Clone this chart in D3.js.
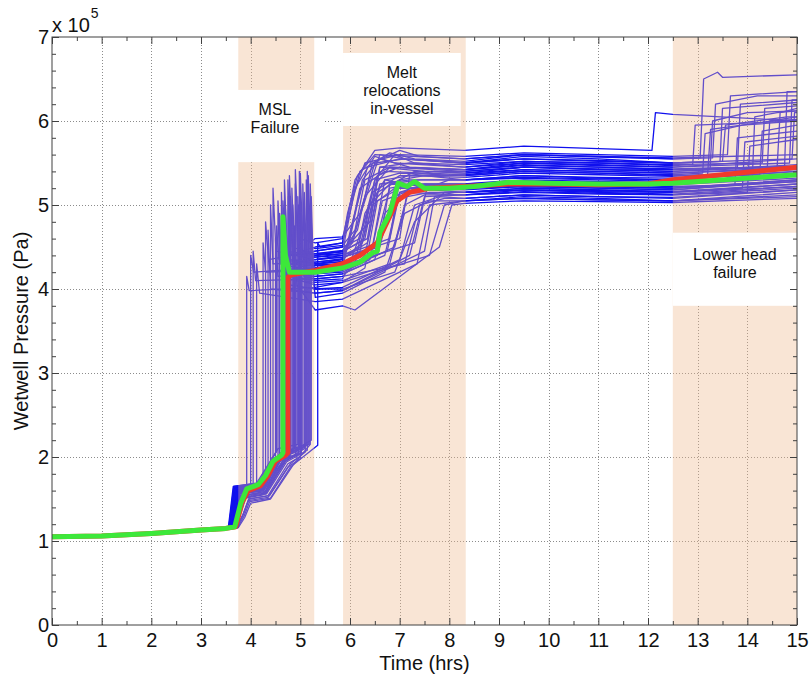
<!DOCTYPE html>
<html>
<head>
<meta charset="utf-8">
<script src="https://cdn.jsdelivr.net/npm/d3@7"></script>
<style>
  body { margin: 0; background: #fff; }
  svg { display: block; font-family: Arial, "Liberation Sans", sans-serif; }
</style>
</head>
<body>
<svg id="chart" width="809" height="677"></svg>
<script>
// Graduations des axes
const xTicks = [0, 1, 2, 3, 4, 5, 6, 7, 8, 9, 10, 11, 12, 13, 14, 15];
const yTicks = [0, 1, 2, 3, 4, 5, 6, 7];

// Phases de l'accident (bandes colorées) et leurs libellés
const phaseStart = [3.75, 5.86, 12.5];
const phaseEnd = [5.28, 8.33, 15];
const phaseLabels = [["MSL", "Failure"], ["Melt", "relocations", "in-vessel"], ["Lower head", "failure"]];

// Début commun à toutes les simulations (heures, pression en 1e5 Pa)
const basePath = [[0, 1.05], [1, 1.06], [2, 1.09], [3, 1.13], [3.5, 1.15]];

// Simulations individuelles
const blueRuns = [
  [[3.56,1.16],[3.66,1.6],[3.92,1.66],[3.92,4.15],[3.97,3.98],[5.3,4.02],[5.85,4.08],[6.3,4.25],[6.55,5.05],[7.0,5.2],[8.3,5.22],[9.5,5.28],[11,5.26],[12.5,5.24],[15,5.32]],
  [[3.58,1.16],[3.68,1.62],[4.0,1.66],[4.0,4.4],[4.06,4.2],[5.3,4.25],[5.85,4.3],[6.05,4.8],[6.35,5.45],[7.0,5.55],[8.3,5.5],[9.5,5.58],[11,5.55],[12.5,5.5],[13.45,5.52],[13.5,6.15],[15,6.22]],
  [[3.6,1.16],[3.72,1.42],[3.85,1.58],[4.12,1.62],[4.12,4.3],[4.18,3.95],[5.3,3.85],[5.85,3.88],[7.35,4.3],[7.6,5.0],[8.3,5.05],[9.5,5.1],[11,5.08],[12.5,5.05],[15,5.15]],
  [[3.62,1.16],[3.72,1.55],[4.2,1.6],[4.3,1.75],[4.3,4.8],[4.36,4.35],[5.3,4.45],[5.85,4.5],[6.2,4.6],[6.5,5.3],[6.9,5.6],[7.3,5.5],[8.3,5.45],[9.5,5.5],[11,5.48],[12.5,5.45],[15,5.55]],
  [[3.65,1.16],[3.75,1.6],[4.2,1.65],[4.45,1.98],[4.45,5.2],[4.51,4.45],[5.3,4.35],[5.85,4.4],[6.8,4.6],[7.0,5.3],[7.5,5.35],[8.3,5.3],[9.5,5.35],[11,5.33],[12.5,5.32],[14.25,5.36],[14.3,5.88],[15,5.95]],
  [[3.57,1.16],[3.67,1.63],[4.15,1.67],[4.5,1.95],[4.55,1.98],[4.55,5.05],[4.6,4.3],[5.3,4.2],[5.85,4.22],[6.1,4.3],[6.3,4.9],[6.7,5.3],[7.1,5.25],[8.3,5.2],[9.5,5.22],[11,5.2],[12.5,5.18],[15,5.28]],
  [[3.64,1.16],[3.74,1.58],[4.2,1.62],[4.55,2.0],[4.62,2.02],[4.62,4.9],[4.67,4.2],[5.3,4.15],[5.85,4.18],[6.5,4.35],[6.7,4.9],[7.2,5.2],[8.3,5.15],[9.5,5.2],[11,5.18],[12.5,5.16],[13.9,5.2],[13.95,5.75],[15,5.82]],
  [[3.7,1.16],[3.8,1.5],[4.25,1.55],[4.6,1.9],[4.68,1.93],[4.68,5.3],[4.74,4.4],[5.3,4.5],[5.85,4.55],[5.95,4.8],[6.2,5.4],[6.8,5.62],[7.3,5.55],[8.3,5.52],[9.5,5.6],[11,5.58],[12.5,5.55],[13.05,5.56],[13.12,6.5],[13.4,6.58],[13.5,6.52],[15,6.55]],
  [[3.66,1.16],[3.76,1.56],[4.3,1.6],[4.65,2.02],[4.72,2.04],[4.72,4.65],[4.78,4.05],[5.3,4.0],[5.85,4.02],[7.0,4.35],[7.3,5.0],[7.8,5.1],[8.3,5.08],[9.5,5.12],[11,5.1],[12.5,5.08],[15,5.18]],
  [[3.6,1.16],[3.7,1.64],[4.1,1.68],[4.5,1.92],[4.78,2.0],[4.78,5.35],[4.84,4.5],[5.3,4.4],[5.85,4.45],[6.4,4.8],[6.6,5.45],[7.5,5.4],[8.3,5.38],[9.5,5.45],[11,5.42],[12.5,5.4],[14.6,5.45],[14.66,6.1],[15,6.15]],
  [[3.63,1.16],[3.73,1.61],[4.2,1.65],[4.6,2.05],[4.85,2.08],[4.85,5.0],[4.9,4.25],[5.3,4.3],[5.85,4.32],[6.6,4.55],[6.9,5.2],[7.4,5.25],[8.3,5.25],[9.5,5.3],[11,5.28],[12.5,5.26],[15,5.38]],
  [[3.68,1.16],[3.8,1.35],[3.9,1.52],[4.3,1.56],[4.7,1.95],[4.9,2.02],[4.9,5.42],[4.96,4.6],[5.3,4.55],[5.85,4.6],[6.0,5.0],[6.3,5.5],[7.0,5.6],[8.3,5.58],[9.5,5.62],[11,5.6],[12.5,5.58],[13.6,5.6],[13.66,6.3],[15,6.35]],
  [[3.55,1.16],[3.65,1.65],[4.15,1.69],[4.55,2.1],[4.95,2.15],[4.95,5.1],[5.0,4.1],[5.3,4.05],[5.85,4.08],[7.6,4.4],[7.9,5.0],[8.3,5.05],[9.5,5.08],[11,5.06],[12.5,5.05],[15,5.12]],
  [[3.72,1.16],[3.84,1.3],[3.95,1.48],[4.35,1.52],[4.75,1.88],[5.0,1.98],[5.0,5.38],[5.06,4.35],[5.3,4.38],[5.85,4.4],[6.2,4.5],[6.45,5.15],[7.0,5.35],[8.3,5.35],[9.5,5.4],[11,5.38],[12.5,5.35],[13.2,5.36],[13.26,5.9],[14.5,6.0],[15,6.02]],
  [[3.67,1.16],[3.77,1.57],[4.25,1.61],[4.65,2.0],[5.05,2.1],[5.05,5.25],[5.1,4.2],[5.3,4.2],[5.85,4.22],[6.9,4.5],[7.15,5.1],[7.6,5.15],[8.3,5.15],[9.5,5.18],[11,5.17],[12.5,5.15],[15,5.25]],
  [[3.61,1.16],[3.71,1.62],[4.2,1.66],[4.6,2.05],[5.12,2.15],[5.12,5.3],[5.17,4.4],[5.3,4.3],[5.85,4.35],[6.0,4.6],[6.25,5.3],[6.6,5.55],[7.2,5.45],[8.3,5.42],[9.5,5.5],[11,5.47],[12.5,5.45],[14.85,5.5],[14.9,6.25],[15,6.25]],
  [[3.75,1.16],[3.88,1.28],[4.0,1.45],[4.4,1.5],[4.85,1.9],[5.2,2.15],[5.2,5.25],[5.25,4.2],[5.3,3.9],[5.85,3.95],[6.7,4.2],[7.1,4.9],[7.6,5.05],[8.3,5.05],[9.5,5.08],[11,5.06],[12.5,5.05],[15,5.1]],
  [[3.59,1.16],[3.69,1.6],[4.18,1.64],[4.35,1.85],[4.35,4.7],[4.4,4.0],[5.3,3.95],[5.85,3.98],[7.2,4.4],[7.5,5.1],[8.3,5.12],[9.5,5.15],[11,5.13],[12.5,5.12],[14.0,5.15],[14.05,5.7],[15,5.78]],
  [[3.63,1.16],[3.73,1.59],[4.05,1.63],[4.05,4.45],[4.1,4.1],[5.3,4.12],[5.85,4.15],[6.3,4.4],[6.6,5.25],[7.2,5.3],[8.3,5.3],[9.5,5.35],[11,5.32],[12.5,5.3],[15,5.4]],
  [[3.65,1.16],[3.75,1.57],[4.22,1.61],[4.58,2.0],[4.62,2.01],[4.62,5.15],[4.67,4.3],[5.3,4.28],[5.85,4.3],[6.5,4.5],[6.8,5.2],[7.3,5.25],[8.3,5.22],[9.5,5.26],[11,5.24],[12.5,5.22],[13.75,5.24],[13.8,5.8],[15,5.88]],
  [[3.58,1.16],[3.68,1.63],[4.18,1.67],[4.52,1.96],[4.7,2.0],[4.7,4.95],[4.75,4.15],[5.3,4.1],[5.85,4.12],[6.0,4.3],[6.4,5.0],[6.8,5.25],[8.3,5.2],[9.5,5.25],[11,5.22],[12.5,5.2],[15,5.3]],
  [[3.7,1.16],[3.8,1.53],[4.3,1.57],[4.7,1.98],[4.8,2.02],[4.8,5.1],[4.85,4.3],[5.3,4.35],[5.85,4.38],[7.0,4.6],[7.2,5.35],[7.7,5.4],[8.3,5.38],[9.5,5.42],[11,5.4],[12.5,5.38],[14.4,5.42],[14.45,6.0],[15,6.05]],
  [[3.64,1.16],[3.74,1.6],[4.25,1.64],[4.65,2.06],[4.88,2.1],[4.88,4.75],[4.93,4.05],[5.3,3.75],[5.85,3.8],[6.1,3.75],[7.8,4.5],[8.05,5.0],[8.3,5.02],[9.5,5.05],[11,5.04],[12.5,5.03],[15,5.08]],
  [[3.62,1.16],[3.72,1.61],[4.2,1.65],[4.6,2.03],[4.98,2.1],[4.98,5.4],[5.03,4.45],[5.3,4.42],[5.85,4.46],[6.15,4.7],[6.45,5.5],[7.0,5.65],[7.4,5.58],[8.3,5.55],[9.5,5.6],[11,5.57],[12.5,5.55],[13.3,5.56],[13.36,6.2],[14.2,6.3],[15,6.3]],
  [[3.69,1.16],[3.82,1.36],[3.92,1.55],[4.3,1.59],[4.7,1.95],[5.08,2.1],[5.08,5.15],[5.13,4.25],[5.3,4.22],[5.85,4.25],[6.75,4.45],[7.0,5.15],[7.5,5.25],[8.3,5.25],[9.5,5.28],[11,5.27],[12.5,5.25],[15,5.35]],
  [[3.66,1.16],[3.76,1.58],[4.28,1.62],[4.7,2.0],[5.16,2.15],[5.16,5.35],[5.21,4.5],[5.3,4.48],[5.85,4.52],[6.1,4.7],[6.3,5.3],[6.8,5.45],[8.3,5.42],[9.5,5.48],[11,5.45],[12.5,5.42],[14.75,5.46],[14.8,6.35],[15,6.35]],
  [[3.57,1.16],[3.67,1.64],[4.15,1.68],[4.5,2.0],[4.5,4.6],[4.55,4.15],[5.3,4.18],[5.85,4.2],[6.4,4.35],[6.65,5.05],[7.1,5.15],[8.3,5.12],[9.5,5.18],[11,5.15],[12.5,5.13],[15,5.22]],
  [[3.71,1.16],[3.85,1.32],[3.96,1.5],[4.35,1.54],[4.75,1.92],[4.93,1.98],[4.93,4.85],[4.98,4.2],[5.3,4.25],[5.85,4.28],[7.3,4.55],[7.55,5.2],[8.0,5.3],[8.3,5.3],[9.5,5.32],[11,5.3],[12.5,5.28],[14.1,5.32],[14.15,6.05],[14.6,6.1],[15,6.12]],
  [[3.6,1.16],[3.7,1.6],[4.2,1.64],[4.6,2.02],[4.75,2.05],[4.75,5.3],[4.8,4.35],[5.3,4.3],[5.85,4.33],[5.9,4.6],[6.1,5.2],[6.5,5.58],[6.9,5.5],[8.3,5.45],[9.5,5.52],[11,5.5],[12.5,5.47],[12.9,5.48],[12.95,5.95],[15,6.0]],
  [[3.63,1.16],[3.73,1.58],[4.24,1.62],[4.62,1.99],[5.22,2.2],[5.22,5.1],[5.27,4.05],[5.3,4.0],[5.85,4.0],[6.9,4.2],[7.3,4.8],[7.9,5.15],[8.3,5.15],[9.5,5.2],[11,5.18],[12.5,5.16],[15,5.25]],
  [[3.74,1.16],[3.87,1.3],[3.98,1.47],[4.4,1.51],[4.8,1.88],[5.35,2.14],[5.35,4.55],[5.4,4.5],[5.85,4.55],[5.95,4.9],[6.15,5.35],[6.5,5.6],[8.3,5.55],[9.5,5.6],[11,5.58],[12.5,5.56],[15,5.6]],
  [[3.65,1.16],[3.75,1.6],[4.2,1.64],[4.55,2.0],[4.58,2.01],[4.58,4.9],[4.63,4.25],[5.3,4.2],[5.85,4.24],[6.55,4.4],[6.85,5.05],[7.3,5.2],[8.3,5.2],[9.5,5.23],[11,5.22],[12.5,5.2],[15,5.28]],
  [[3.62,1.16],[3.72,1.63],[4.2,1.67],[4.6,2.04],[4.83,2.06],[4.83,5.2],[4.88,4.4],[5.3,4.42],[5.85,4.44],[6.3,4.6],[6.55,5.35],[7.0,5.45],[8.3,5.42],[9.5,5.47],[11,5.45],[12.5,5.43],[13.8,5.45],[13.86,6.2],[15,6.25]],
  [[3.68,1.16],[3.78,1.54],[4.3,1.58],[4.7,1.96],[5.02,2.05],[5.02,4.9],[5.07,4.15],[5.3,4.12],[5.85,4.15],[7.1,4.3],[7.4,5.0],[7.9,5.08],[8.3,5.08],[9.5,5.12],[11,5.1],[12.5,5.09],[15,5.18]],
  [[3.59,1.16],[3.69,1.62],[4.16,1.66],[4.4,1.9],[4.4,5.0],[4.45,4.3],[5.3,4.32],[5.85,4.35],[6.25,4.55],[6.5,5.3],[7.0,5.38],[8.3,5.35],[9.5,5.4],[11,5.38],[12.5,5.36],[13.1,5.38],[13.15,5.85],[13.9,5.95],[15,6.0]],
  [[3.73,1.16],[3.86,1.33],[3.97,1.5],[4.38,1.54],[4.8,1.92],[5.1,2.06],[5.1,4.7],[5.15,4.35],[5.3,4.35],[5.85,4.38],[6.6,4.5],[6.8,5.25],[7.4,5.3],[8.3,5.3],[9.5,5.33],[11,5.31],[12.5,5.3],[15,5.4]],
  [[3.64,1.16],[3.74,1.59],[4.22,1.63],[4.62,2.02],[4.65,2.03],[4.65,5.05],[4.7,4.45],[5.3,4.4],[5.85,4.42],[6.05,4.55],[6.3,5.1],[6.8,5.45],[8.3,5.4],[9.5,5.45],[11,5.42],[12.5,5.4],[15,5.48]],
  [[3.61,1.16],[3.71,1.61],[4.2,1.65],[4.6,2.0],[4.73,2.02],[4.73,4.55],[4.78,4.0],[5.3,3.95],[5.85,3.98],[7.5,4.45],[7.7,5.1],[8.1,5.15],[8.3,5.15],[9.5,5.18],[11,5.16],[12.5,5.15],[15,5.22]],
  [[3.67,1.16],[3.77,1.56],[4.26,1.6],[4.66,1.97],[4.96,2.03],[4.96,5.0],[5.01,4.3],[5.3,4.4],[5.85,4.45],[6.35,4.6],[6.6,5.45],[7.2,5.5],[8.3,5.48],[9.5,5.52],[11,5.5],[12.5,5.48],[14.3,5.5],[14.35,6.15],[15,6.18]],
  [[3.56,1.16],[3.66,1.65],[4.12,1.69],[4.5,2.05],[4.52,2.06],[4.52,4.75],[4.57,4.35],[5.3,4.3],[5.85,4.28],[6.2,4.45],[6.45,5.0],[6.9,5.2],[8.3,5.18],[9.5,5.22],[11,5.2],[12.5,5.18],[15,5.3]],
  [[3.7,1.16],[3.8,1.52],[4.32,1.56],[4.72,1.94],[5.14,2.08],[5.14,5.4],[5.19,4.55],[5.3,4.6],[5.85,4.62],[6.2,4.9],[6.5,5.5],[7.1,5.55],[8.3,5.5],[9.5,5.55],[11,5.53],[12.5,5.5],[13.5,5.52],[13.56,5.95],[14.8,6.05],[15,6.05]],
  [[3.62,1.16],[3.72,1.6],[4.2,1.64],[4.6,2.0],[4.86,2.05],[4.86,4.65],[4.91,4.1],[5.3,4.08],[5.85,4.1],[6.8,4.3],[7.1,5.0],[7.5,5.12],[8.3,5.12],[9.5,5.16],[11,5.14],[12.5,5.12],[15,5.2]],
  [[3.65,1.16],[3.75,1.58],[4.25,1.62],[4.65,2.02],[5.18,2.15],[5.18,4.95],[5.23,4.25],[5.3,4.28],[5.85,4.3],[6.45,4.5],[6.7,5.3],[7.2,5.35],[8.3,5.33],[9.5,5.38],[11,5.36],[12.5,5.34],[15,5.42]],
  [[3.58,1.16],[3.68,1.62],[4.18,1.66],[4.25,1.72],[4.25,4.55],[4.3,4.2],[5.3,4.22],[5.85,4.26],[5.95,4.5],[6.2,5.2],[6.7,5.4],[8.3,5.36],[9.5,5.42],[11,5.4],[12.5,5.38],[15,5.45]],
  [[3.6,1.16],[3.7,1.6],[4.2,1.64],[4.6,2.0],[4.76,2.04],[4.76,5.1],[4.81,4.4],[5.3,4.45],[5.85,4.5],[5.9,4.7],[6.1,5.3],[6.5,5.65],[7.0,5.68],[8.3,5.65],[9.5,5.7],[11,5.67],[12.08,5.65],[12.15,6.1],[12.5,6.08],[15,6.0]],
  [[3.67,1.16],[3.77,1.57],[4.27,1.61],[4.68,1.98],[4.9,2.03],[4.9,5.25],[4.95,4.4],[5.3,4.38],[5.85,4.42],[6.05,4.6],[6.3,5.05],[6.6,5.6],[7.1,5.55],[8.3,5.5],[9.5,5.55],[11,5.52],[12.5,5.5],[14.9,5.55],[14.95,6.1],[15,6.1]],
  [[3.63,1.16],[3.73,1.6],[4.22,1.64],[4.62,2.01],[4.66,2.02],[4.66,4.35],[4.71,4.1],[5.3,4.15],[5.85,4.18],[6.7,4.4],[7.0,5.15],[7.6,5.2],[8.3,5.2],[9.5,5.24],[11,5.22],[12.5,5.2],[15,5.3]],
  [[3.6,1.16],[3.7,1.62],[4.18,1.66],[4.56,1.98],[4.8,2.03],[4.8,5.0],[4.85,4.35],[5.3,4.32],[5.85,4.36],[6.35,4.55],[6.55,5.15],[7.3,5.4],[8.3,5.4],[9.5,5.45],[11,5.43],[12.5,5.42],[13.25,5.43],[13.3,6.0],[14.0,6.1],[15,6.12]]
];

// Courbe médiane (rouge), après le début commun
const medianRun = [[3.7,1.17],[3.82,1.45],[3.95,1.6],[4.2,1.66],[4.35,1.78],[4.5,1.95],[4.7,2.02],[4.75,2.05],[4.75,4.14],[4.82,4.17],[5.3,4.22],[5.85,4.3],[6.2,4.4],[6.55,4.55],[6.75,4.8],[6.95,5.05],[7.2,5.15],[7.6,5.2],[8.3,5.22],[9.2,5.25],[10,5.25],[11,5.24],[12,5.25],[12.5,5.3],[15,5.45]];

// Simulation de référence (verte), après le début commun
const refRun = [[3.68,1.17],[3.8,1.45],[3.92,1.62],[4.15,1.67],[4.3,1.78],[4.45,1.95],[4.62,2.02],[4.65,2.05],[4.65,4.86],[4.7,4.4],[4.78,4.2],[5.3,4.2],[5.85,4.25],[6.2,4.32],[6.45,4.43],[6.55,4.45],[6.6,4.67],[6.8,4.9],[6.97,5.26],[7.15,5.22],[7.3,5.28],[7.5,5.2],[8.0,5.2],[8.5,5.22],[9.2,5.27],[10,5.26],[11,5.25],[12,5.25],[12.5,5.26],[15,5.36]];

const svg = d3.select("#chart");
const margin = { top: 37, right: 12, bottom: 52, left: 52 };
const W = +svg.attr("width");
const H = +svg.attr("height");

const x = d3.scaleLinear().domain([0, 15]).range([margin.left, W - margin.right]);
const y = d3.scaleLinear().domain([0, 7]).range([H - margin.bottom, margin.top]);

const line = d3.line().x(d => x(d[0])).y(d => y(d[1]));

svg.append("defs").append("clipPath").attr("id", "clip")
  .append("rect")
  .attr("x", x(0)).attr("y", y(7))
  .attr("width", x(15) - x(0)).attr("height", y(0) - y(7));

// Grille pointillée
const grid = svg.append("g").attr("stroke", "#8c8c8c").attr("stroke-dasharray", "1,2");
grid.selectAll(".gx").data(xTicks.slice(1, -1)).join("line")
  .attr("x1", d => Math.round(x(d)) + 0.5).attr("x2", d => Math.round(x(d)) + 0.5)
  .attr("y1", y(0)).attr("y2", y(7));
grid.selectAll(".gy").data(yTicks.slice(1, -1)).join("line")
  .attr("y1", d => Math.round(y(d)) + 0.5).attr("y2", d => Math.round(y(d)) + 0.5)
  .attr("x1", x(0)).attr("x2", x(15));

// Faisceau des simulations
const plot = svg.append("g").attr("clip-path", "url(#clip)");
plot.append("g")
  .selectAll("path")
  .data(blueRuns)
  .join("path")
  .attr("fill", "none")
  .attr("stroke", "#1010ee")
  .attr("stroke-width", 1.3)
  .attr("stroke-linejoin", "round")
  .attr("d", d => line(basePath.concat(d)));

// Bandes des phases, semi-transparentes au-dessus du faisceau
plot.append("g")
  .selectAll("rect")
  .data(phaseStart)
  .join("rect")
  .attr("x", d => x(d))
  .attr("width", (d, i) => x(phaseEnd[i]) - x(d))
  .attr("y", y(7))
  .attr("height", y(0) - y(7))
  .attr("fill", "rgb(240,184,140)")
  .attr("fill-opacity", 0.37);

// Cartouches blancs des libellés (coordonnées en données)
const boxes = [
  { t0: 3.52, t1: 5.46, p0: 6.37, p1: 5.51 },
  { t0: 5.86, t1: 8.23, p0: 6.81, p1: 5.94 },
  { t0: 12.5, t1: 15, p0: 4.67, p1: 3.8 }
];
boxes.forEach((b, i) => {
  svg.append("rect")
    .attr("x", x(b.t0)).attr("y", y(b.p0))
    .attr("width", x(b.t1) - x(b.t0)).attr("height", y(b.p1) - y(b.p0))
    .attr("fill", "#fff");
  svg.append("text")
    .attr("x", (x(b.t0) + x(b.t1)) / 2)
    .attr("y", y(b.p0) + (i === 2 ? 27 : 25))
    .attr("text-anchor", "middle")
    .attr("font-size", 16)
    .attr("fill", "#111")
    .selectAll("tspan")
    .data(phaseLabels[i])
    .join("tspan")
    .attr("x", (x(b.t0) + x(b.t1)) / 2)
    .attr("dy", (d, j) => j ? 18 : 0)
    .text(d => d);
});

// Médiane puis simulation de référence
plot.append("path")
  .datum(basePath.concat(medianRun))
  .attr("fill", "none")
  .attr("stroke", "#f03a2a")
  .attr("stroke-width", 5)
  .attr("stroke-linejoin", "round")
  .attr("d", line);

plot.append("path")
  .datum(basePath.concat(refRun))
  .attr("fill", "none")
  .attr("stroke", "#3de83a")
  .attr("stroke-width", 5)
  .attr("stroke-linejoin", "round")
  .attr("d", line);

// Axes
const axisColor = "#404040";
function styleAxis(g) {
  g.select(".domain").remove();
  g.selectAll(".tick line").attr("stroke", axisColor);
  g.selectAll(".tick text").attr("fill", "#111").attr("font-size", 20)
    .attr("font-family", "Arial, 'Liberation Sans', sans-serif");
}
const xMinor = d3.range(0.5, 15, 1);
const yMinor = d3.range(1, 35).map(d => d / 5).filter(d => d % 1 !== 0);

svg.append("g").attr("transform", `translate(0,${y(0)})`)
  .call(d3.axisBottom(x).tickValues(xTicks).tickSize(-7).tickPadding(8).tickFormat(d3.format("d")))
  .call(styleAxis);
svg.append("g").attr("transform", `translate(0,${y(0)})`)
  .call(d3.axisBottom(x).tickValues(xMinor).tickSize(-4).tickFormat(""))
  .call(styleAxis);
svg.append("g").attr("transform", `translate(0,${y(7)})`)
  .call(d3.axisTop(x).tickValues(xTicks).tickSize(-7).tickFormat(""))
  .call(styleAxis);
svg.append("g").attr("transform", `translate(0,${y(7)})`)
  .call(d3.axisTop(x).tickValues(xMinor).tickSize(-4).tickFormat(""))
  .call(styleAxis);
svg.append("g").attr("transform", `translate(${x(0)},0)`)
  .call(d3.axisLeft(y).tickValues(yTicks).tickSize(-7).tickPadding(3).tickFormat(d3.format("d")))
  .call(styleAxis);
svg.append("g").attr("transform", `translate(${x(0)},0)`)
  .call(d3.axisLeft(y).tickValues(yMinor).tickSize(-4).tickFormat(""))
  .call(styleAxis);
svg.append("g").attr("transform", `translate(${x(15)},0)`)
  .call(d3.axisRight(y).tickValues(yTicks).tickSize(-7).tickFormat(""))
  .call(styleAxis);
svg.append("g").attr("transform", `translate(${x(15)},0)`)
  .call(d3.axisRight(y).tickValues(yMinor).tickSize(-4).tickFormat(""))
  .call(styleAxis);

// Cadre
svg.append("rect")
  .attr("x", x(0)).attr("y", y(7))
  .attr("width", x(15) - x(0)).attr("height", y(0) - y(7))
  .attr("fill", "none").attr("stroke", axisColor);

// Titres des axes et facteur d'échelle
svg.append("text")
  .attr("x", (x(0) + x(15)) / 2).attr("y", H - 7)
  .attr("text-anchor", "middle").attr("font-size", 20).attr("fill", "#111")
  .text("Time (hrs)");
svg.append("text")
  .attr("transform", `translate(28,${(y(0) + y(7)) / 2}) rotate(-90)`)
  .attr("text-anchor", "middle").attr("font-size", 20).attr("fill", "#111")
  .text("Wetwell Pressure (Pa)");
const expo = svg.append("text").attr("x", x(0)).attr("y", 32).attr("font-size", 20).attr("fill", "#111");
expo.append("tspan").text("x 10");
expo.append("tspan").attr("font-size", 14).attr("dy", -14).attr("dx", 1).text("5");
</script>
</body>
</html>
